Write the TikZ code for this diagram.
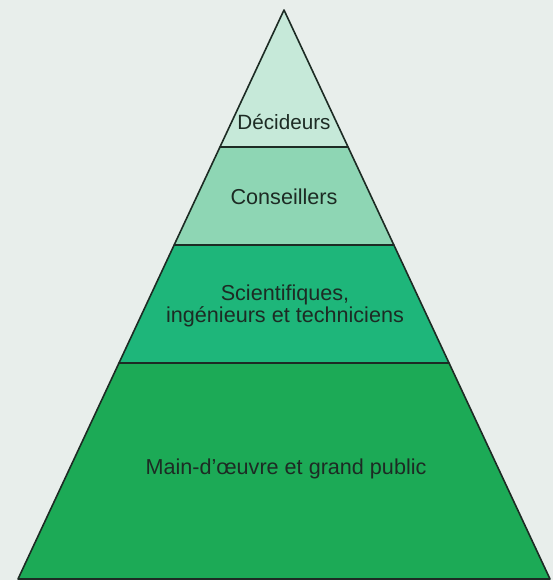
\documentclass[tikz,border=0pt]{standalone}
\usepackage{fontspec}
\setmainfont{Liberation Sans}
\usetikzlibrary{calc}

\definecolor{fond}{HTML}{E8EEEB}
\definecolor{niveauA}{HTML}{C6E9D9}
\definecolor{niveauB}{HTML}{8ED6B4}
\definecolor{niveauC}{HTML}{1EB67A}
\definecolor{niveauD}{HTML}{1CAA56}
\definecolor{trait}{HTML}{1D2B24}

\tikzset{
	etage/.style={text=trait, align=center, font=\fontsize{16.2}{16.5}\selectfont},
}

\begin{document}
\begin{tikzpicture}[line cap=round,line join=round,x=0.75pt,y=-0.75pt]
	\useasboundingbox (0,0) rectangle (553,580);
	\fill[fond] (0,0) rectangle (553,580);
	% sommet et base
	\coordinate (S) at (284,10);
	\coordinate (G) at (18,579);
	\coordinate (D) at (550,579);
	% limites des etages
	\coordinate (g1) at ($(S)!0.2408!(G)$);
	\coordinate (d1) at ($(S)!0.2408!(D)$);
	\coordinate (g2) at ($(S)!0.4130!(G)$);
	\coordinate (d2) at ($(S)!0.4130!(D)$);
	\coordinate (g3) at ($(S)!0.6204!(G)$);
	\coordinate (d3) at ($(S)!0.6204!(D)$);
	\fill[niveauA] (S) -- (g1) -- (d1) -- cycle;
	\fill[niveauB] (g1) -- (g2) -- (d2) -- (d1) -- cycle;
	\fill[niveauC] (g2) -- (g3) -- (d3) -- (d2) -- cycle;
	\fill[niveauD] (g3) -- (G) -- (D) -- (d3) -- cycle;
	\draw[trait, line width=1.2pt] (S) -- (G) -- (D) -- cycle;
	\draw[trait, line width=0.9pt] (g1) -- (d1);
	\draw[trait, line width=0.9pt] (g2) -- (d2);
	\draw[trait, line width=0.9pt] (g3) -- (d3);
	% textes
	\node[etage, font=\fontsize{15.5}{16.5}\selectfont] (decideurs) at (284,122) {Décideurs};
	\node[etage] (conseillers) at (284,197) {Conseillers};
	\node[etage] (scientifiques) at (285,306) {Scientifiques,\\ingénieurs et techniciens};
	\node[etage] (public) at (286,469) {Main-d’œuvre et grand public};
\end{tikzpicture}
\end{document}
